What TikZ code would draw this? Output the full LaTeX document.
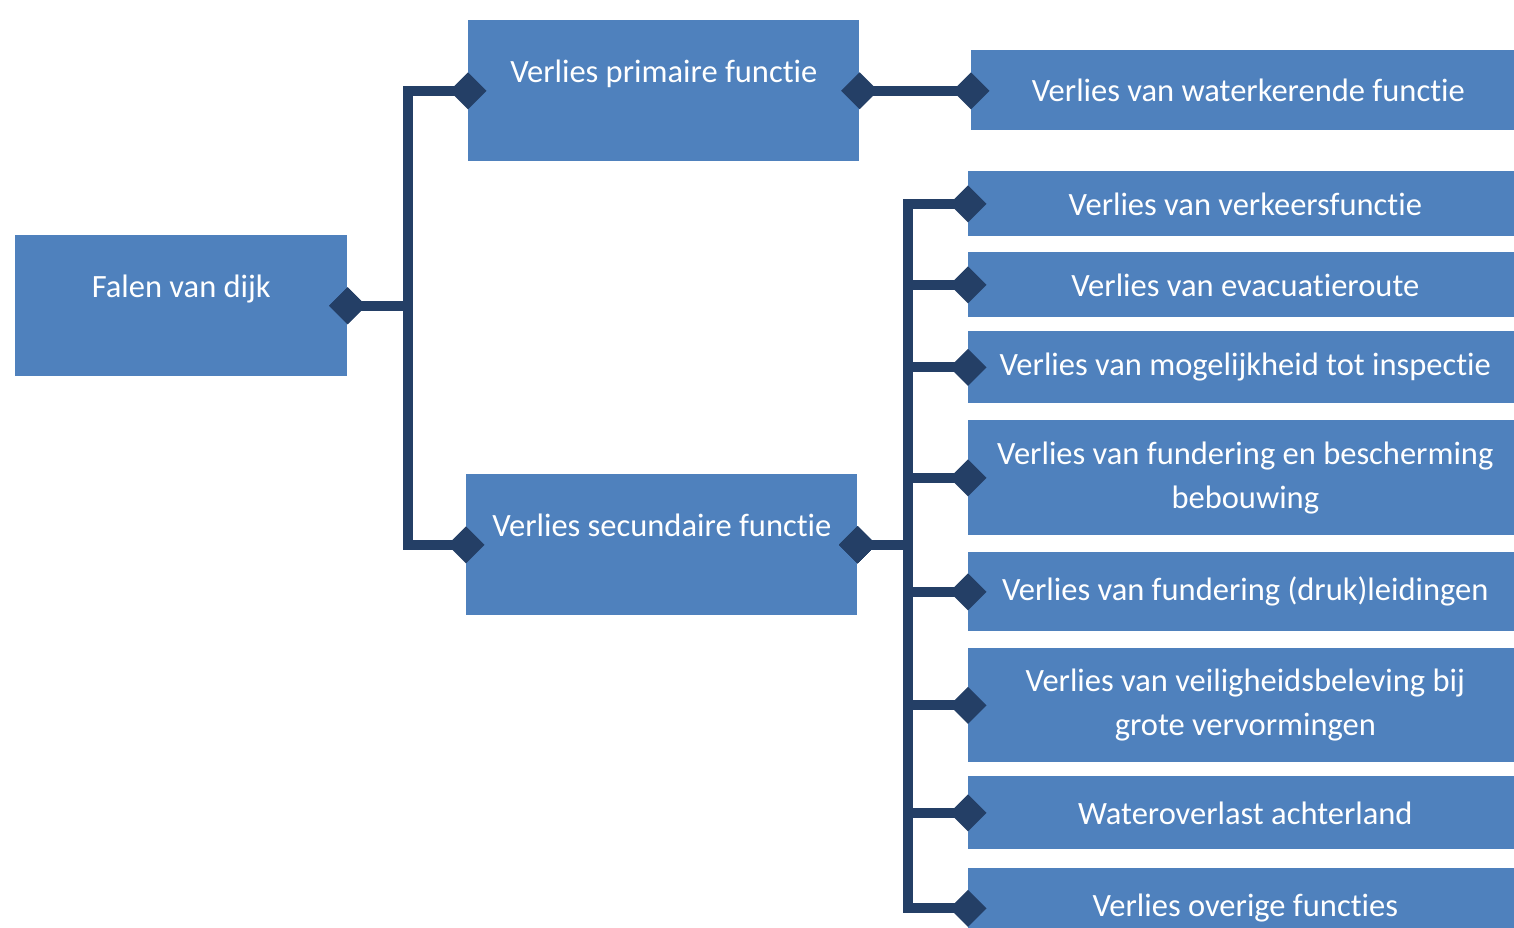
\documentclass[tikz,border=0pt]{standalone}
\usepackage{fontspec}
\setmainfont{Carlito}[RawFeature=-liga]
\usepackage{tikz}
\usetikzlibrary{arrows.meta,positioning,calc}
\definecolor{boxblue}{HTML}{4F81BD}
\definecolor{linknavy}{HTML}{243F66}
\tikzset{
 funcbox/.style={rectangle,fill=boxblue,text=white,inner sep=0pt,align=center,anchor=north west,font=\fontsize{18.5}{25}\selectfont},
 topbox/.style={funcbox,text height=1.24cm,text depth=1.58cm},
 subbox/.style={funcbox,minimum width=11.08cm},
 link/.style={draw=linknavy,line width=0.2cm,{Diamond[length=0.74cm,width=0.74cm]}-{Diamond[length=0.74cm,width=0.74cm]},shorten <=-0.37cm,shorten >=-0.37cm}
}
\begin{document}
\begin{tikzpicture}[x=0.02cm,y=-0.02cm]
 \useasboundingbox (0,0) rectangle (1514,928);
 \node[topbox,minimum width=6.64cm] (falen) at (15,235) {Falen van dijk};
 \node[topbox,minimum width=7.82cm] (prim) at (468,20) {Verlies primaire functie};
 \node[topbox,minimum width=7.82cm] (sec) at (466,474) {Verlies secundaire functie};
 \node[subbox,minimum height=1.6cm] (r1) at (971,50) {Verlies van waterkerende functie};
 \foreach \n/\y/\h/\t in {r2/171/1.3/{Verlies van verkeersfunctie},
   r3/252/1.3/{Verlies van evacuatieroute},
   r4/331/1.44/{Verlies van mogelijkheid tot inspectie},
   r5/420/2.3/{Verlies van fundering en bescherming\\bebouwing},
   r6/552/1.58/{Verlies van fundering (druk)leidingen},
   r7/648/2.28/{Verlies van veiligheidsbeleving bij\\grote vervormingen},
   r8/776/1.46/{Wateroverlast achterland},
   r9/868/1.6/{Verlies overige functies}}
   \node[subbox,minimum height=\h cm] (\n) at (968,\y) {\t};
 \coordinate (t1) at (408,0);
 \coordinate (t2) at (908,0);
 \draw[link] (falen.east) -- (falen.east -| t1) |- (prim.west);
 \draw[link] (falen.east) -- (falen.east -| t1) |- (sec.west);
 \draw[link] (prim.east) -- (r1.west |- prim.east);
 \foreach \n in {r2,r3,r4,r5,r6,r7,r8,r9}
   \draw[link] (sec.east) -- (sec.east -| t2) |- (\n.west);
\end{tikzpicture}
\end{document}
